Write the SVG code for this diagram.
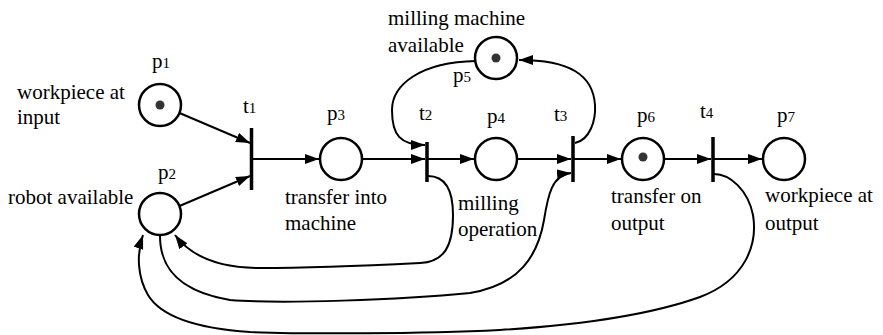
<svg xmlns="http://www.w3.org/2000/svg" width="883" height="335" viewBox="0 0 883 335">
<style>
  .place { fill: #fff; stroke: #000; stroke-width: 2.5; }
  .token { fill: #333; stroke: none; }
  .bar { stroke: #000; stroke-width: 3.5; fill: none; }
  .arc { fill: none; stroke: #000; stroke-width: 2; marker-end: url(#ah); }
  text { font-family: 'Liberation Serif', 'Times New Roman', Times, 'DejaVu Serif', serif; font-size: 21px; fill: #000; }
  .sub { font-size: 15px; }
</style>
<defs>
  <marker id="ah" markerUnits="userSpaceOnUse" markerWidth="15" markerHeight="11" refX="14" refY="5" orient="auto">
    <path d="M0,0 L14,5 L0,10 z" fill="#000"/>
  </marker>
</defs>
<rect width="883" height="335" fill="#fff"/>
<g id="connectors">
  <path class="arc" d="M179.5,113 L250,143"/>
  <path class="arc" d="M179.5,206 L250,176"/>
  <path class="arc" d="M253,159 L319,159"/>
  <path class="arc" d="M363,159 L425,159"/>
  <path class="arc" d="M428,159 L474,159"/>
  <path class="arc" d="M518,159 L571,159"/>
  <path class="arc" d="M574,159 L621,159"/>
  <path class="arc" d="M665,159 L711,159"/>
  <path class="arc" d="M714,159 L762,159"/>
  <path class="arc" d="M476,61 C420,62 392,85 392,110 C392,135 400,145 425,145"/>
  <path class="arc" d="M575,143 C590,140 596,120 595,105 C593,75 570,60 519,60"/>
  <path class="arc" d="M428,176 C445,176 453,190 453,215 C453,245 445,262 420,263 C380,265 300,268 260,268 C215,268 190,255 175,235"/>
  <path class="arc" d="M160,236 C160,260 170,290 230,300 C280,304 400,300 470,293 C520,285 538,255 544,220 C548,195 552,175 571,173"/>
  <path class="arc" d="M714,174 C730,174 748,190 753,215 C758,245 745,280 700,297 C650,315 580,325 500,330 C420,334 300,334 250,332 C190,328 160,315 148,295 C138,278 136,255 143,235"/>
</g>
<g id="p1">
  <circle class="place" cx="160" cy="105" r="21"/>
  <circle class="token" cx="160" cy="105" r="4.5"/>
  <text x="152" y="68" font-family="Liberation Serif, serif">p<tspan class="sub">1</tspan></text>
  <text x="17" y="99" font-family="Liberation Serif, serif">workpiece at</text>
  <text x="17" y="124" font-family="Liberation Serif, serif">input</text>
</g>
<g id="p2">
  <circle class="place" cx="160" cy="214" r="21"/>
  <text x="158" y="179" font-family="Liberation Serif, serif">p<tspan class="sub">2</tspan></text>
  <text x="8" y="204" font-family="Liberation Serif, serif">robot available</text>
</g>
<g id="t1">
  <line class="bar" x1="251.5" y1="128" x2="251.5" y2="190"/>
  <text x="243" y="113" font-family="Liberation Serif, serif">t<tspan class="sub">1</tspan></text>
</g>
<g id="p3">
  <circle class="place" cx="341" cy="159" r="21"/>
  <text x="327" y="120" font-family="Liberation Serif, serif">p<tspan class="sub">3</tspan></text>
  <text x="285" y="204" font-family="Liberation Serif, serif">transfer into</text>
  <text x="285" y="230" font-family="Liberation Serif, serif">machine</text>
</g>
<g id="t2">
  <line class="bar" x1="427" y1="142" x2="427" y2="182"/>
  <text x="419" y="120" font-family="Liberation Serif, serif">t<tspan class="sub">2</tspan></text>
</g>
<g id="p4">
  <circle class="place" cx="496" cy="159" r="21"/>
  <text x="487" y="123" font-family="Liberation Serif, serif">p<tspan class="sub">4</tspan></text>
  <text x="458" y="210" font-family="Liberation Serif, serif">milling</text>
  <text x="458" y="236" font-family="Liberation Serif, serif">operation</text>
</g>
<g id="p5">
  <circle class="place" cx="496" cy="58" r="21"/>
  <circle class="token" cx="496" cy="58" r="4.5"/>
  <text x="453" y="82" font-family="Liberation Serif, serif">p<tspan class="sub">5</tspan></text>
  <text x="388" y="25" font-family="Liberation Serif, serif">milling machine</text>
  <text x="388" y="52" font-family="Liberation Serif, serif">available</text>
</g>
<g id="t3">
  <line class="bar" x1="573" y1="136" x2="573" y2="182"/>
  <text x="554" y="121" font-family="Liberation Serif, serif">t<tspan class="sub">3</tspan></text>
</g>
<g id="p6">
  <circle class="place" cx="643" cy="159" r="21"/>
  <circle class="token" cx="643" cy="157" r="4.5"/>
  <text x="637" y="122" font-family="Liberation Serif, serif">p<tspan class="sub">6</tspan></text>
  <text x="611" y="203" font-family="Liberation Serif, serif">transfer on</text>
  <text x="611" y="230" font-family="Liberation Serif, serif">output</text>
</g>
<g id="t4">
  <line class="bar" x1="713" y1="137" x2="713" y2="182"/>
  <text x="700" y="118" font-family="Liberation Serif, serif">t<tspan class="sub">4</tspan></text>
</g>
<g id="p7">
  <circle class="place" cx="784" cy="159" r="21"/>
  <text x="777" y="122" font-family="Liberation Serif, serif">p<tspan class="sub">7</tspan></text>
  <text x="765" y="202" font-family="Liberation Serif, serif">workpiece at</text>
  <text x="765" y="230" font-family="Liberation Serif, serif">output</text>
</g>
</svg>
